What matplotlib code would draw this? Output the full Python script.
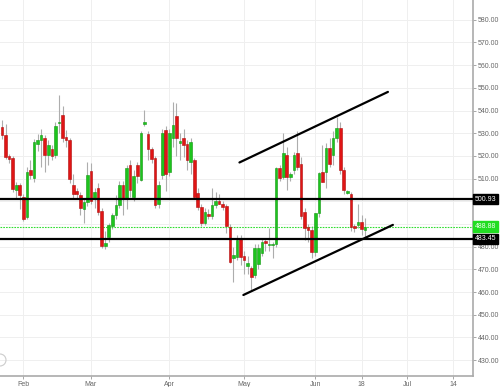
import matplotlib
matplotlib.use("Agg")
from matplotlib import pyplot as plt
from matplotlib.patches import Circle
import numpy as np

# daily candles (open, high, low, close)
opens = [532.7, 529.1, 519.8, 519.1, 504.8, 507.0, 501.9, 493.2, 514.0, 510.3,
         525.4, 526.9, 527.8, 520.5, 523.2, 520.4, 534.4, 538.0, 528.3, 527.0,
         507.0, 504.6, 502.8, 496.5, 499.7, 513.3, 500.9, 505.7, 495.9, 480.3,
         484.4, 489.3, 494.0, 498.4, 507.2, 501.3, 516.0, 502.0, 516.0, 509.4,
         534.2, 529.8, 522.9, 519.1, 498.9, 511.6, 531.3, 513.0, 527.8, 537.6,
         525.5, 528.0, 525.1, 517.5, 518.2, 503.5, 497.6, 490.3, 494.4, 493.5,
         498.4, 500.1, 498.7, 497.9, 488.8, 474.9, 475.6, 483.3, 476.1, 471.5,
         470.5, 467.5, 472.3, 477.1, 482.7, 480.6, 480.6, 481.2, 514.6, 510.8,
         520.4, 510.6, 513.8, 521.1, 516.5, 495.4, 488.8, 487.4, 477.8, 494.7,
         513.0, 513.0, 523.4, 520.4, 527.8, 532.5, 513.8, 503.8, 503.1, 488.8,
         489.6, 491.0, 487.4]
highs = [535.8, 534.2, 521.0, 520.0, 508.5, 508.0, 503.0, 515.1, 518.0, 527.6,
         529.8, 532.0, 529.0, 527.0, 525.0, 535.0, 546.8, 542.0, 531.4, 528.0,
         512.0, 506.0, 504.0, 501.0, 517.3, 517.0, 506.0, 508.0, 497.0, 487.0,
         490.5, 495.0, 502.6, 509.0, 509.0, 516.0, 518.0, 514.0, 517.5, 531.0,
         540.2, 531.0, 524.0, 520.0, 509.0, 532.0, 533.0, 532.0, 543.9, 543.2,
         530.0, 532.0, 527.0, 528.0, 519.0, 506.0, 499.0, 497.0, 496.5, 505.9,
         504.0, 503.0, 500.0, 499.0, 490.0, 480.0, 485.0, 485.0, 478.0, 476.0,
         471.5, 481.0, 481.0, 484.0, 484.0, 488.4, 482.0, 515.0, 516.0, 530.0,
         524.0, 513.0, 521.5, 531.0, 519.5, 497.0, 490.0, 489.0, 495.0, 513.0,
         524.8, 525.7, 528.0, 531.0, 537.3, 535.0, 515.0, 505.0, 504.0, 490.0,
         499.0, 494.0, 492.5]
lows = [527.6, 518.8, 517.0, 504.1, 501.1, 496.7, 491.5, 492.0, 510.0, 508.5,
        522.0, 515.0, 513.0, 515.9, 518.0, 519.0, 530.0, 526.0, 524.0, 508.0,
        501.0, 501.5, 494.0, 490.3, 498.0, 499.0, 497.0, 494.0, 479.5, 479.1,
        482.0, 488.0, 492.0, 497.0, 494.0, 496.7, 502.0, 500.0, 508.0, 509.0,
        533.0, 518.0, 517.0, 497.0, 497.0, 510.0, 504.5, 511.0, 524.0, 520.0,
        518.0, 519.6, 514.0, 512.0, 501.0, 496.0, 489.0, 489.5, 492.0, 492.0,
        497.0, 499.0, 496.0, 486.0, 472.7, 464.6, 474.0, 472.0, 468.0, 468.0,
        460.9, 466.0, 470.0, 476.0, 478.0, 478.0, 474.9, 480.0, 509.0, 510.0,
        505.0, 509.0, 512.0, 514.0, 492.0, 483.0, 482.0, 475.0, 476.0, 493.0,
        508.5, 506.0, 515.0, 516.0, 526.0, 512.0, 503.0, 503.0, 487.0, 486.5,
        488.3, 485.0, 483.7]
closes = [529.2, 519.5, 518.5, 505.6, 507.3, 502.6, 492.3, 512.9, 511.7, 526.1,
          526.9, 529.1, 520.4, 525.0, 520.0, 533.2, 534.9, 527.8, 527.1, 509.7,
          503.4, 503.0, 496.9, 499.7, 511.8, 500.0, 504.1, 495.4, 480.3, 481.8,
          489.6, 494.0, 498.4, 507.2, 500.9, 514.6, 505.0, 511.0, 511.3, 530.0,
          534.6, 523.2, 518.8, 498.5, 507.3, 530.0, 512.2, 530.0, 533.6, 527.8,
          526.6, 524.8, 518.2, 526.3, 502.0, 497.6, 490.3, 495.4, 493.6, 498.4,
          500.1, 498.7, 497.6, 489.1, 473.4, 476.4, 483.0, 475.6, 474.1, 472.7,
          466.8, 479.3, 479.6, 482.2, 481.5, 481.2, 481.2, 514.6, 510.2, 521.1,
          510.8, 512.0, 520.4, 515.2, 493.5, 488.1, 487.4, 477.8, 494.7, 512.3,
          508.6, 523.4, 516.3, 527.8, 532.5, 513.8, 505.0, 504.3, 488.8, 488.3,
          491.0, 487.7, 488.88]

# month ticks, as positions on the candle index axis
tick_labels = ['Feb', 'Mar', 'Apr', 'May', 'Jun', '18', 'Jul', '14']
tick_idx = [5.9, 25.0, 47.0, 68.1, 88.0, 101.0, 113.8, 126.8]

# price axis ticks; the 490 and 500 labels sit under the price tags
price_ticks = list(range(430, 581, 10))
hidden_ticks = [490, 500]

# drawn levels and channel lines
levels = [500.93, 483.45]
last_price = 488.88
upper_line = ([66.7, 108.4], [517.1, 548.2])
lower_line = ([67.8, 109.8], [458.7, 489.6])

GREEN = '#1dc41d'
RED = '#e01515'

fig = plt.figure(figsize=(5.0, 3.87), dpi=100)
ax = fig.add_axes([0.0, 0.029, 0.946, 0.971])

x = np.arange(len(opens))
o = np.array(opens)
c = np.array(closes)
up = c >= o
colors = [GREEN if u else RED for u in up]
edges = ['#119911' if u else '#b00d0d' for u in up]
bottom = np.minimum(o, c)
height = np.maximum(np.abs(c - o), 0.6)

ax.vlines(x, lows, highs, color='#adadad', lw=0.8, zorder=2)
ax.bar(x, height, bottom=bottom, width=0.74, color=colors, edgecolor=edges,
       linewidth=0.4, zorder=3)

for lv in levels:
    ax.axhline(lv, color='black', lw=1.6, zorder=4)
ax.axhline(last_price, color='#33dd33', lw=0.8, ls=(0, (1.5, 1.0)), zorder=2.5)
ax.plot(*upper_line, color='black', lw=1.6, solid_capstyle='round', zorder=4)
ax.plot(*lower_line, color='black', lw=1.6, solid_capstyle='round', zorder=4)

ax.set_xlim(-0.56, 132.3)
ax.set_ylim(423.1, 588.7)

ax.set_xticks(tick_idx)
ax.set_xticklabels(tick_labels)
ax.set_yticks(price_ticks)
ax.set_yticklabels(['' if v in hidden_ticks else f'{v:.2f}' for v in price_ticks])
ax.yaxis.tick_right()
ax.tick_params(axis='both', labelsize=5, labelcolor='#666666', color='#999999',
               length=2, width=0.6, pad=1.5)
for t in ax.get_xticklabels() + ax.get_yticklabels():
    t.set_family('Liberation Sans')
ax.grid(True, color='#efefef', lw=0.7, zorder=0)
ax.set_axisbelow(True)

for s in ['left', 'top']:
    ax.spines[s].set_visible(False)
for s in ['right', 'bottom']:
    ax.spines[s].set_color('#aaaaaa')
    ax.spines[s].set_linewidth(1.2)

# price tags on the right axis
tag = ax.get_yaxis_transform()
for lv in levels:
    ax.text(1.003, lv, f'{lv:.2f}', transform=tag, fontsize=5, color='white',
            family='Liberation Sans', va='center', ha='left', clip_on=False, zorder=6,
            bbox=dict(boxstyle='square,pad=0.25', fc='black', ec='black'))
ax.text(1.003, last_price, f'{last_price:.2f}', transform=tag, fontsize=5,
        color='#eaffea', family='Liberation Sans', va='center', ha='left',
        clip_on=False, zorder=6,
        bbox=dict(boxstyle='square,pad=0.25', fc='#22dd22', ec='#22dd22'))

# little round button at the lower left
fig.add_artist(Circle((0.0, 27), 6, transform=None, fill=False,
                      ec='#cccccc', lw=0.8))

fig.savefig('out.png', dpi=100)
